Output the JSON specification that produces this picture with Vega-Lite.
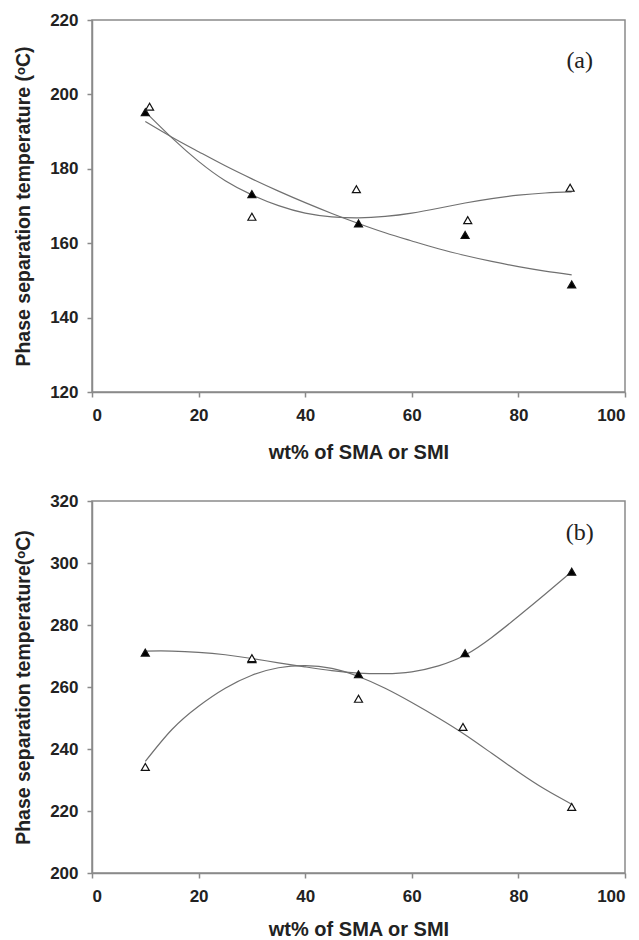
{
  "$schema": "https://vega.github.io/schema/vega-lite/v6.json",
  "background": "white",
  "padding": {"top": 10, "left": 12, "right": 0, "bottom": 0},
  "bounds": "flush",
  "spacing": 109,
  "datasets": {
    "pts_a": [
      {"wt": 10, "temp": 195.2, "series": "filled"},
      {"wt": 30, "temp": 173.2, "series": "filled"},
      {"wt": 50, "temp": 165.3, "series": "filled"},
      {"wt": 70, "temp": 162.2, "series": "filled"},
      {"wt": 90, "temp": 148.9, "series": "filled"},
      {"wt": 10.8, "temp": 196.7, "series": "open"},
      {"wt": 30, "temp": 167.1, "series": "open"},
      {"wt": 49.6, "temp": 174.5, "series": "open"},
      {"wt": 70.5, "temp": 166.2, "series": "open"},
      {"wt": 89.7, "temp": 174.9, "series": "open"}
    ],
    "fit_a": [
      {"wt": 10, "temp": 192.7, "series": "filled"},
      {"wt": 15, "temp": 188.5, "series": "filled"},
      {"wt": 20, "temp": 184.6, "series": "filled"},
      {"wt": 25, "temp": 180.8, "series": "filled"},
      {"wt": 30, "temp": 177.3, "series": "filled"},
      {"wt": 35, "temp": 174.0, "series": "filled"},
      {"wt": 40, "temp": 170.9, "series": "filled"},
      {"wt": 45, "temp": 168.0, "series": "filled"},
      {"wt": 50, "temp": 165.3, "series": "filled"},
      {"wt": 55, "temp": 162.8, "series": "filled"},
      {"wt": 60, "temp": 160.6, "series": "filled"},
      {"wt": 65, "temp": 158.5, "series": "filled"},
      {"wt": 70, "temp": 156.7, "series": "filled"},
      {"wt": 75, "temp": 155.1, "series": "filled"},
      {"wt": 80, "temp": 153.7, "series": "filled"},
      {"wt": 85, "temp": 152.5, "series": "filled"},
      {"wt": 90, "temp": 151.5, "series": "filled"},
      {"wt": 10, "temp": 195.3, "series": "open"},
      {"wt": 15, "temp": 188.3, "series": "open"},
      {"wt": 20, "temp": 182.0, "series": "open"},
      {"wt": 25, "temp": 176.8, "series": "open"},
      {"wt": 30, "temp": 173.0, "series": "open"},
      {"wt": 35, "temp": 170.1, "series": "open"},
      {"wt": 40, "temp": 168.1, "series": "open"},
      {"wt": 45, "temp": 167.1, "series": "open"},
      {"wt": 50, "temp": 166.8, "series": "open"},
      {"wt": 55, "temp": 167.2, "series": "open"},
      {"wt": 60, "temp": 168.1, "series": "open"},
      {"wt": 65, "temp": 169.4, "series": "open"},
      {"wt": 70, "temp": 170.8, "series": "open"},
      {"wt": 75, "temp": 172.0, "series": "open"},
      {"wt": 80, "temp": 172.9, "series": "open"},
      {"wt": 85, "temp": 173.5, "series": "open"},
      {"wt": 90, "temp": 173.8, "series": "open"}
    ],
    "pts_b": [
      {"wt": 10, "temp": 271.1, "series": "filled"},
      {"wt": 30, "temp": 269.0, "series": "filled"},
      {"wt": 50, "temp": 264.1, "series": "filled"},
      {"wt": 70, "temp": 270.9, "series": "filled"},
      {"wt": 90, "temp": 297.2, "series": "filled"},
      {"wt": 10, "temp": 234.2, "series": "open"},
      {"wt": 30, "temp": 269.3, "series": "open"},
      {"wt": 50, "temp": 256.2, "series": "open"},
      {"wt": 69.6, "temp": 247.1, "series": "open"},
      {"wt": 90, "temp": 221.3, "series": "open"}
    ],
    "fit_b": [
      {"wt": 10, "temp": 271.6, "series": "filled"},
      {"wt": 15, "temp": 271.6, "series": "filled"},
      {"wt": 20, "temp": 271.2, "series": "filled"},
      {"wt": 25, "temp": 270.4, "series": "filled"},
      {"wt": 30, "temp": 269.2, "series": "filled"},
      {"wt": 35, "temp": 267.8, "series": "filled"},
      {"wt": 40, "temp": 266.5, "series": "filled"},
      {"wt": 45, "temp": 265.3, "series": "filled"},
      {"wt": 50, "temp": 264.5, "series": "filled"},
      {"wt": 55, "temp": 264.3, "series": "filled"},
      {"wt": 60, "temp": 264.9, "series": "filled"},
      {"wt": 65, "temp": 266.8, "series": "filled"},
      {"wt": 70, "temp": 270.3, "series": "filled"},
      {"wt": 75, "temp": 276.0, "series": "filled"},
      {"wt": 80, "temp": 282.8, "series": "filled"},
      {"wt": 85, "temp": 289.9, "series": "filled"},
      {"wt": 90, "temp": 297.2, "series": "filled"},
      {"wt": 10, "temp": 236.0, "series": "open"},
      {"wt": 15, "temp": 246.3, "series": "open"},
      {"wt": 20, "temp": 253.8, "series": "open"},
      {"wt": 25, "temp": 259.6, "series": "open"},
      {"wt": 30, "temp": 263.8, "series": "open"},
      {"wt": 35, "temp": 266.2, "series": "open"},
      {"wt": 40, "temp": 266.9, "series": "open"},
      {"wt": 45, "temp": 266.0, "series": "open"},
      {"wt": 50, "temp": 263.4, "series": "open"},
      {"wt": 55, "temp": 259.6, "series": "open"},
      {"wt": 60, "temp": 255.0, "series": "open"},
      {"wt": 65, "temp": 250.0, "series": "open"},
      {"wt": 70, "temp": 244.6, "series": "open"},
      {"wt": 75, "temp": 238.6, "series": "open"},
      {"wt": 80, "temp": 232.6, "series": "open"},
      {"wt": 85, "temp": 227.0, "series": "open"},
      {"wt": 90, "temp": 222.2, "series": "open"}
    ],
    "lab_a": [{"wt": 91.5, "temp": 209, "label": "(a)"}],
    "lab_b": [{"wt": 91.5, "temp": 309.8, "label": "(b)"}]
  },
  "vconcat": [
    {
      "width": 533,
      "height": 372,
      "encoding": {
        "x": {"field": "wt", "type": "quantitative", "scale": {"domain": [0, 100], "nice": false, "zero": false},
              "axis": {"values": [0, 20, 40, 60, 80, 100], "title": "wt% of SMA or SMI", "labelPadding": 10, "titlePadding": 19}},
        "y": {"field": "temp", "type": "quantitative", "scale": {"domain": [120, 220], "nice": false, "zero": false},
              "axis": {"values": [120, 140, 160, 180, 200, 220], "title": "Phase separation temperature (ᵒC)", "labelPadding": 9, "titlePadding": 16}}
      },
      "layer": [
        {
          "data": {"name": "fit_a"},
          "mark": {"type": "line", "stroke": "#707070", "strokeWidth": 1.2, "interpolate": "natural"},
          "encoding": {"detail": {"field": "series", "type": "nominal"}}
        },
        {
          "data": {"name": "pts_a"},
          "mark": {"type": "point", "shape": "triangle-up", "filled": true, "size": 64, "stroke": "#111", "strokeWidth": 1.2, "opacity": 1},
          "encoding": {"fill": {"field": "series", "type": "nominal", "scale": {"domain": ["filled", "open"], "range": ["#000000", "#ffffff"]}, "legend": null}}
        },
        {
          "data": {"name": "lab_a"},
          "mark": {"type": "text", "font": "Liberation Serif", "fontSize": 24, "color": "#222", "align": "center", "baseline": "middle"},
          "encoding": {"text": {"field": "label"}}
        }
      ]
    },
    {
      "width": 533,
      "height": 372,
      "encoding": {
        "x": {"field": "wt", "type": "quantitative", "scale": {"domain": [0, 100], "nice": false, "zero": false},
              "axis": {"values": [0, 20, 40, 60, 80, 100], "title": "wt% of SMA or SMI", "labelPadding": 10, "titlePadding": 15}},
        "y": {"field": "temp", "type": "quantitative", "scale": {"domain": [200, 320], "nice": false, "zero": false},
              "axis": {"values": [200, 220, 240, 260, 280, 300, 320], "title": "Phase separation temperature(ᵒC)", "labelPadding": 9, "titlePadding": 16}}
      },
      "layer": [
        {
          "data": {"name": "fit_b"},
          "mark": {"type": "line", "stroke": "#707070", "strokeWidth": 1.2, "interpolate": "natural"},
          "encoding": {"detail": {"field": "series", "type": "nominal"}}
        },
        {
          "data": {"name": "pts_b"},
          "mark": {"type": "point", "shape": "triangle-up", "filled": true, "size": 64, "stroke": "#111", "strokeWidth": 1.2, "opacity": 1},
          "encoding": {"fill": {"field": "series", "type": "nominal", "scale": {"domain": ["filled", "open"], "range": ["#000000", "#ffffff"]}, "legend": null}}
        },
        {
          "data": {"name": "lab_b"},
          "mark": {"type": "text", "font": "Liberation Serif", "fontSize": 24, "color": "#222", "align": "center", "baseline": "middle"},
          "encoding": {"text": {"field": "label"}}
        }
      ]
    }
  ],
  "resolve": {"scale": {"x": "independent", "y": "independent", "fill": "independent"}},
  "config": {
    "view": {"stroke": "#8a8a8a", "strokeWidth": 1.5},
    "axis": {
      "grid": false,
      "domainColor": "#8a8a8a", "domainWidth": 1.5,
      "tickColor": "#8a8a8a", "tickWidth": 1.5, "tickSize": 5,
      "labelFont": "Liberation Sans", "labelFontWeight": "bold", "labelFontSize": 17, "labelColor": "#222",
      "titleFont": "Liberation Sans", "titleFontWeight": "bold", "titleColor": "#222"
    },
    "axisX": {"titleFontSize": 20},
    "axisY": {"titleFontSize": 19.5}
  }
}
